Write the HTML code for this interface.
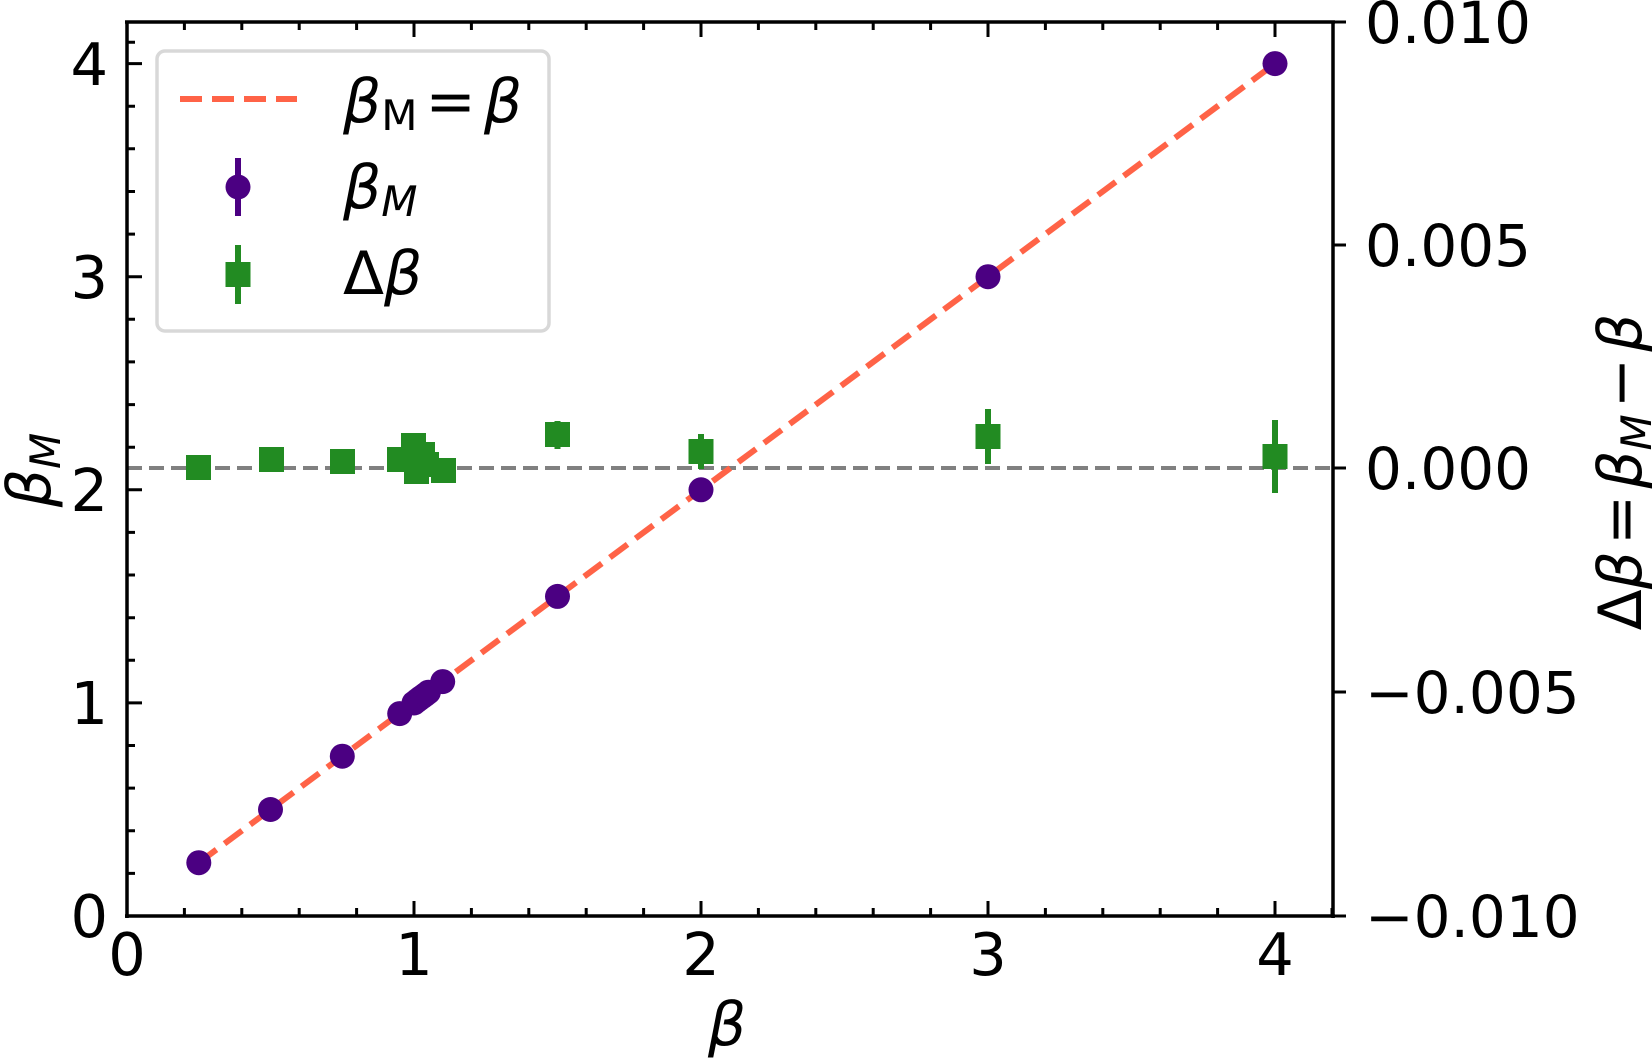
<!DOCTYPE html>
<html><head><meta charset="utf-8"><style>
html,body{margin:0;padding:0;background:#fff}
svg{display:block}
text{font-family:"DejaVu Sans","Liberation Sans",sans-serif;fill:#000}
</style></head><body>
<svg width="1652" height="1061" viewBox="0 0 1652 1061" xmlns="http://www.w3.org/2000/svg">
<line x1="127" y1="468" x2="1333" y2="468" stroke="#808080" stroke-width="4" stroke-dasharray="15 7"/>
<line x1="198.8" y1="862.7" x2="1275" y2="63.6" stroke="#FF6347" stroke-width="6" stroke-dasharray="22 10"/>
<g stroke="#228B22" stroke-width="6">
<line x1="1275" y1="420" x2="1275" y2="493"/>
<line x1="988" y1="409" x2="988" y2="464"/>
<line x1="701" y1="434" x2="701" y2="469"/>
<line x1="557.5" y1="421" x2="557.5" y2="449"/>
</g>
<g fill="#228B22">
<rect x="186" y="455" width="25" height="25"/>
<rect x="259" y="447" width="25" height="25"/>
<rect x="330" y="449" width="25" height="25"/>
<rect x="387" y="447" width="25" height="25"/>
<rect x="401" y="433" width="25" height="25"/>
<rect x="404" y="459" width="25" height="25"/>
<rect x="410" y="442" width="25" height="25"/>
<rect x="414" y="452" width="25" height="25"/>
<rect x="431" y="458" width="25" height="25"/>
<rect x="545" y="422" width="25" height="25"/>
<rect x="688.5" y="439" width="25" height="25"/>
<rect x="975.5" y="424" width="25" height="25"/>
<rect x="1262.5" y="444" width="25" height="25"/>
</g>
<g fill="#4B0082">
<circle cx="198.8" cy="862.7" r="12.5"/>
<circle cx="270.5" cy="809.5" r="12.5"/>
<circle cx="342.3" cy="756.2" r="12.5"/>
<circle cx="399.7" cy="713.6" r="12.5"/>
<circle cx="414" cy="703" r="12.5"/>
<circle cx="416.9" cy="700.8" r="12.5"/>
<circle cx="419.7" cy="698.6" r="12.5"/>
<circle cx="422.6" cy="696.5" r="12.5"/>
<circle cx="425.5" cy="694.4" r="12.5"/>
<circle cx="428.4" cy="692.2" r="12.5"/>
<circle cx="442.7" cy="681.6" r="12.5"/>
<circle cx="557.5" cy="596.4" r="12.5"/>
<circle cx="701" cy="489.8" r="12.5"/>
<circle cx="988" cy="276.7" r="12.5"/>
<circle cx="1275" cy="63.6" r="12.5"/>
</g>
<g stroke="#000" stroke-width="3.5" fill="none">
<line x1="127" y1="22" x2="127" y2="918"/>
<line x1="1333" y1="22" x2="1333" y2="918"/>
<line x1="125" y1="916" x2="1335" y2="916"/>
<line x1="125" y1="22" x2="1335" y2="22"/>
</g>
<g stroke="#000" stroke-width="3">
<path d="M127 916v-15M414 916v-15M701 916v-15M988 916v-15M1275 916v-15M127 22v15M414 22v15M701 22v15M988 22v15M1275 22v15"/>
<path d="M184.4 916v-8M241.8 916v-8M299.2 916v-8M356.6 916v-8M471.4 916v-8M528.8 916v-8M586.2 916v-8M643.6 916v-8M758.4 916v-8M815.8 916v-8M873.2 916v-8M930.6 916v-8M1045.4 916v-8M1102.8 916v-8M1160.2 916v-8M1217.6 916v-8M1332 916v-8
M184.4 22v8M241.8 22v8M299.2 22v8M356.6 22v8M471.4 22v8M528.8 22v8M586.2 22v8M643.6 22v8M758.4 22v8M815.8 22v8M873.2 22v8M930.6 22v8M1045.4 22v8M1102.8 22v8M1160.2 22v8M1217.6 22v8"/>
<path d="M127 916h15M127 702.9h15M127 489.8h15M127 276.7h15M127 63.6h15"/>
<path d="M127 873.4h8M127 830.8h8M127 788.1h8M127 745.5h8M127 660.3h8M127 617.7h8M127 575h8M127 532.4h8M127 447.2h8M127 404.6h8M127 361.9h8M127 319.3h8M127 234.1h8M127 191.5h8M127 148.8h8M127 106.2h8M127 42.3h8"/>
<path d="M1333 22h13M1333 245h13M1333 468h13M1333 692h13M1333 916h13"/>
</g>
<g font-size="59" text-anchor="end">
<text x="108" y="937">0</text>
<text x="108" y="724">1</text>
<text x="108" y="511">2</text>
<text x="108" y="298">3</text>
<text x="108" y="85">4</text>
</g>
<g font-size="59" text-anchor="middle">
<text x="127" y="975">0</text>
<text x="414" y="975">1</text>
<text x="701" y="975">2</text>
<text x="988" y="975">3</text>
<text x="1275" y="975">4</text>
</g>
<g font-size="58">
<text x="1365" y="43">0.010</text>
<text x="1365" y="266">0.005</text>
<text x="1365" y="489">0.000</text>
<text x="1365" y="713">−0.005</text>
<text x="1365" y="937">−0.010</text>
</g>
<text x="727" y="1045" font-size="60" font-style="italic" text-anchor="middle">β</text>
<text transform="translate(50,470) rotate(-90)" font-size="60" text-anchor="middle"><tspan font-style="italic">β</tspan><tspan font-size="42" font-style="italic" dy="10">M</tspan></text>
<text transform="translate(1641,472) rotate(-90)" font-size="60" text-anchor="middle">Δ<tspan font-style="italic">β</tspan><tspan dx="6">=</tspan><tspan dx="6" font-style="italic">β</tspan><tspan font-size="42" font-style="italic" dy="10">M</tspan><tspan dy="-10" dx="6">−</tspan><tspan dx="6" font-style="italic">β</tspan></text>
<rect x="157" y="51" width="392" height="280" rx="8" fill="#fff" fill-opacity="0.8" stroke="#d8d8d8" stroke-width="3.5"/>
<line x1="180" y1="99" x2="297" y2="99" stroke="#FF6347" stroke-width="6" stroke-dasharray="22 10"/>
<text x="343" y="122" font-size="60"><tspan font-style="italic">β</tspan><tspan font-size="42" dy="8">M</tspan><tspan dy="-8" dx="8">=</tspan><tspan dx="8" font-style="italic">β</tspan></text>
<line x1="238" y1="158" x2="238" y2="216" stroke="#4B0082" stroke-width="6"/>
<circle cx="238" cy="187" r="12.5" fill="#4B0082"/>
<text x="343" y="208" font-size="60"><tspan font-style="italic">β</tspan><tspan font-size="42" font-style="italic" dy="8">M</tspan></text>
<line x1="238" y1="245" x2="238" y2="304" stroke="#228B22" stroke-width="6"/>
<rect x="225.5" y="262" width="25" height="25" fill="#228B22"/>
<text x="343" y="294" font-size="60">Δ<tspan font-style="italic">β</tspan></text>
</svg>
</body></html>
